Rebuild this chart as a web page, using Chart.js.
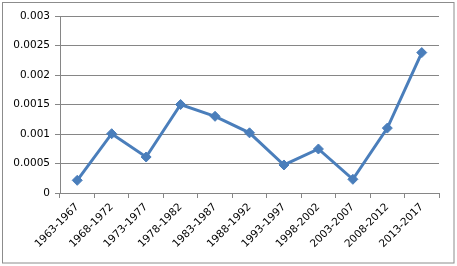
<!DOCTYPE html>
<html>
<head>
<meta charset="utf-8">
<script src="https://cdn.jsdelivr.net/npm/chart.js@4/dist/chart.umd.min.js"></script>
<style>
  html, body { margin: 0; padding: 0; background: #fff; }
  #wrap { width: 457px; height: 266px; position: relative; }
</style>
</head>
<body>
<div id="wrap"><canvas id="lineChart" width="457" height="266"></canvas></div>
<script>
// datos del grafico
var periodos = ['1963-1967', '1968-1972', '1973-1977', '1978-1982', '1983-1987', '1988-1992',
                '1993-1997', '1998-2002', '2003-2007', '2008-2012', '2013-2017'];
var valores = [0.000215, 0.001005, 0.00061, 0.0015, 0.0013, 0.00102,
               0.000475, 0.000746, 0.000232, 0.0011, 0.00238];
var ejeMin = 0;
var ejeMax = 0.003;
var ejePaso = 0.0005;

// marco gris alrededor del grafico
var marco = {
    id: 'marco',
    beforeDraw: function (chart) {
        var ctx = chart.ctx;
        ctx.save();
        ctx.fillStyle = '#ffffff';
        ctx.fillRect(0, 0, chart.width, chart.height);
        ctx.strokeStyle = '#8c8c8c';
        ctx.lineWidth = 1;
        ctx.strokeRect(2.5, 2.5, 451.5, 260.5);
        ctx.restore();
    }
};

var lineChartCanvas = document.getElementById('lineChart').getContext('2d');
new Chart(lineChartCanvas, {
    type: 'line',
    data: {
        labels: periodos,
        datasets: [
            {
                data: valores,
                borderColor: '#4a7ebb',
                backgroundColor: '#4a7ebb',
                borderWidth: 3,
                tension: 0,
                pointStyle: 'rectRot',
                pointRadius: 5,
                pointBorderWidth: 1,
                pointBackgroundColor: '#4a7ebb',
                pointBorderColor: '#4a7ebb'
            }
        ]
    },
    options: {
        responsive: false,
        animation: false,
        layout: { padding: { left: 0, top: 16, right: 18, bottom: 0 } },
        plugins: { legend: { display: false }, tooltip: { enabled: false } },
        scales: {
            x: {
                offset: true,
                grid: { offset: true, drawOnChartArea: false, drawTicks: true, tickLength: 5, color: '#868686' },
                border: { color: '#868686' },
                ticks: {
                    autoSkip: false, maxRotation: 45, minRotation: 45, padding: 3,
                    color: '#000', font: { family: 'DejaVu Sans', size: 10.5 }
                },
                afterFit: function (scale) { scale.height = 73; }
            },
            y: {
                min: ejeMin,
                max: ejeMax,
                ticks: {
                    stepSize: ejePaso, padding: 5, color: '#000',
                    font: { family: 'DejaVu Sans', size: 10.5 },
                    callback: function (v) { return String(+v.toFixed(4)); }
                },
                grid: { color: '#868686', tickLength: 5 },
                border: { color: '#868686' },
                afterFit: function (scale) { scale.width = 60; }
            }
        }
    },
    plugins: [marco]
});
</script>
</body>
</html>
